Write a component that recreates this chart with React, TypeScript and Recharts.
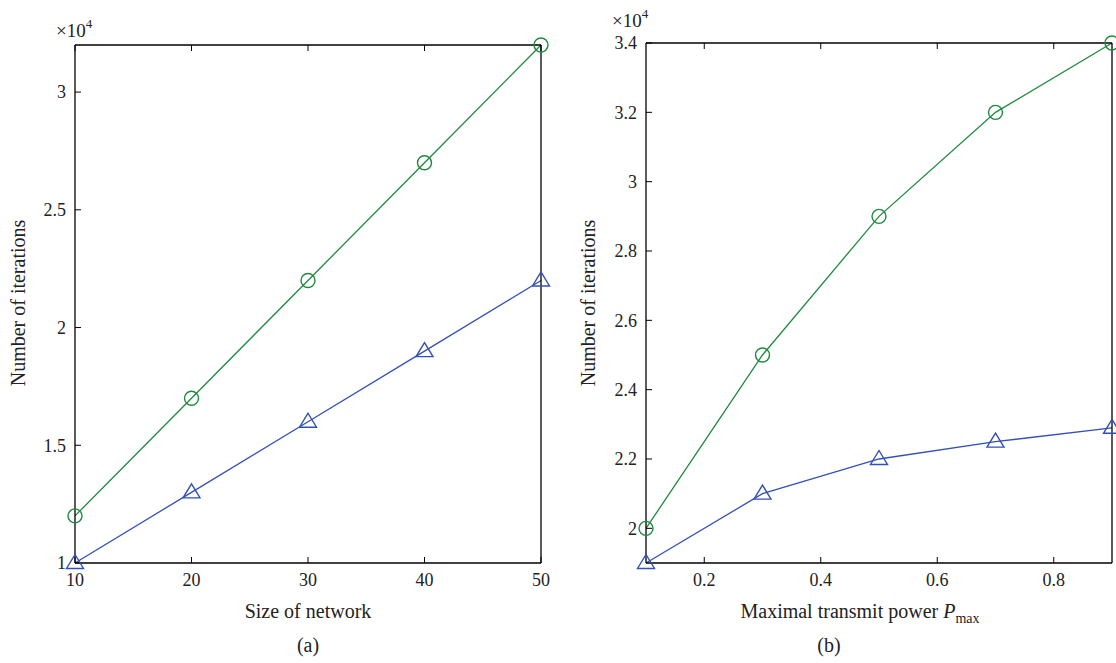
import React from 'react';
import { LineChart, Line, XAxis, YAxis } from 'recharts';

// (a) iterations vs size of network
const networkSizes = [10, 20, 30, 40, 50];
const sizeCircle = [12000, 17000, 22000, 27000, 32000];
const sizeTriangle = [10000, 13000, 16000, 19000, 22000];
const sizeXTicks = [10, 20, 30, 40, 50];
const sizeYTicks = [10000, 15000, 20000, 25000, 30000];

// (b) iterations vs maximal transmit power
const powers = [0.1, 0.3, 0.5, 0.7, 0.9];
const powerCircle = [20000, 25000, 29000, 32000, 34000];
const powerTriangle = [19000, 21000, 22000, 22500, 22900];
const powerXTicks = [0.2, 0.4, 0.6, 0.8];
const powerYTicks = [20000, 22000, 24000, 26000, 28000, 30000, 32000, 34000];

const GREEN = '#1f8a3e';
const BLUE = '#3350b5';
const FONT = 'Liberation Serif, DejaVu Serif, serif';

const sizeData = networkSizes.map((x, i) => ({ x, circle: sizeCircle[i], tri: sizeTriangle[i] }));
const powerData = powers.map((x, i) => ({ x, circle: powerCircle[i], tri: powerTriangle[i] }));

const fmt = (v: number) => String(Math.round(v / 1000) / 10);

const Triangle = (props: any) => {
  const { cx, cy, key } = props;
  if (cx == null || cy == null) return <g key={key} />;
  return (
    <path
      key={key}
      d={`M${cx},${cy - 8.5} L${cx - 8.5},${cy + 5.5} L${cx + 8.5},${cy + 5.5} Z`}
      fill="none"
      stroke={BLUE}
      strokeWidth={1.4}
    />
  );
};

const tickStyle = { fontSize: 18, fill: '#222', fontFamily: FONT };

function Panel({ data, xDomain, xTicks, yDomain, yTicks, yLeftWidth, marginLeft, marginTop, marginRight, width, xTitle, caption, captionDx, titleDx, titleX, multDx, multY }: any) {
  const xLabel = (p: any) => {
    const vb = p.viewBox;
    const cxm = vb.x + vb.width / 2;
    return (
      <g style={{ fontFamily: FONT }} fill="#222">
        {xTitle(cxm + titleDx, vb.y + 55)}
        <text x={cxm + captionDx} y={vb.y + 89} fontSize={20} textAnchor="middle">{caption}</text>
      </g>
    );
  };
  const yLabel = (p: any) => {
    const vb = p.viewBox;
    const axisX = vb.x + vb.width;
    const cy = 303;
    return (
      <g style={{ fontFamily: FONT }} fill="#222">
        <text x={titleX} y={cy} fontSize={20} textAnchor="middle" transform={`rotate(-90, ${titleX}, ${cy})`}>
          Number of iterations
        </text>
        <text x={axisX + multDx} y={multY} fontSize={19}>
          ×10<tspan fontSize={13} dy={-9}>4</tspan>
        </text>
      </g>
    );
  };
  return (
    <LineChart width={width} height={663} data={data} margin={{ top: marginTop, right: marginRight, bottom: 40, left: marginLeft }} style={{ fontFamily: FONT }}>
      <XAxis
        dataKey="x"
        type="number"
        domain={xDomain}
        ticks={xTicks}
        height={60}
        tickSize={-6}
        tickMargin={16}
        tick={tickStyle}
        axisLine={{ stroke: '#000', strokeWidth: 1.3 }}
        tickLine={{ stroke: '#000' }}
        label={{ content: xLabel }}
      />
      <XAxis
        xAxisId="top"
        orientation="top"
        dataKey="x"
        type="number"
        domain={xDomain}
        ticks={xTicks}
        height={1}
        tickSize={-6}
        tickFormatter={() => ''}
        axisLine={{ stroke: '#000', strokeWidth: 1.3 }}
        tickLine={{ stroke: '#000' }}
      />
      <YAxis
        type="number"
        domain={yDomain}
        ticks={yTicks}
        width={yLeftWidth}
        tickSize={-6}
        tickMargin={15}
        tick={tickStyle}
        tickFormatter={fmt}
        axisLine={{ stroke: '#000', strokeWidth: 1.3 }}
        tickLine={{ stroke: '#000' }}
        label={{ content: yLabel }}
      />
      <YAxis
        yAxisId="right"
        orientation="right"
        type="number"
        domain={yDomain}
        ticks={yTicks}
        width={1}
        tickSize={-6}
        tickFormatter={() => ''}
        axisLine={{ stroke: '#000', strokeWidth: 1.3 }}
        tickLine={{ stroke: '#000' }}
      />
      <Line
        dataKey="circle"
        stroke={GREEN}
        strokeWidth={1.3}
        dot={{ r: 7, fill: 'none', stroke: GREEN, strokeWidth: 1.4 }}
        isAnimationActive={false}
      />
      <Line
        dataKey="tri"
        stroke={BLUE}
        strokeWidth={1.3}
        dot={Triangle}
        isAnimationActive={false}
      />
    </LineChart>
  );
}

export default function App() {
  return (
    <div style={{ position: 'absolute', left: 0, top: 0, width: 1116, height: 663, background: '#fff', overflow: 'hidden' }}>
      <div style={{ position: 'absolute', left: 0, top: 0 }}>
        <Panel
          data={sizeData}
          xDomain={[10, 50]}
          xTicks={sizeXTicks}
          yDomain={[10000, 32000]}
          yTicks={sizeYTicks}
          yLeftWidth={40}
          marginLeft={35}
          marginTop={44}
          marginRight={18}
          width={560}
          caption="(a)"
          captionDx={0}
          titleDx={0}
          titleX={25}
          multDx={-19}
          multY={37}
          xTitle={(x: number, y: number) => (
            <text x={x} y={y} fontSize={20} textAnchor="middle">Size of network</text>
          )}
        />
      </div>
      <div style={{ position: 'absolute', left: 560, top: 0 }}>
        <Panel
          data={powerData}
          xDomain={[0.1, 0.9]}
          xTicks={powerXTicks}
          yDomain={[19000, 34000]}
          yTicks={powerYTicks}
          yLeftWidth={45}
          marginLeft={41}
          marginTop={42}
          marginRight={3}
          width={556}
          caption="(b)"
          captionDx={-50}
          titleDx={-19}
          titleX={35}
          multDx={-34}
          multY={27}
          xTitle={(x: number, y: number) => (
            <text x={x} y={y} fontSize={20} textAnchor="middle">
              Maximal transmit power <tspan fontStyle="italic">P</tspan>
              <tspan fontSize={14} dy={5}>max</tspan>
            </text>
          )}
        />
      </div>
    </div>
  );
}
